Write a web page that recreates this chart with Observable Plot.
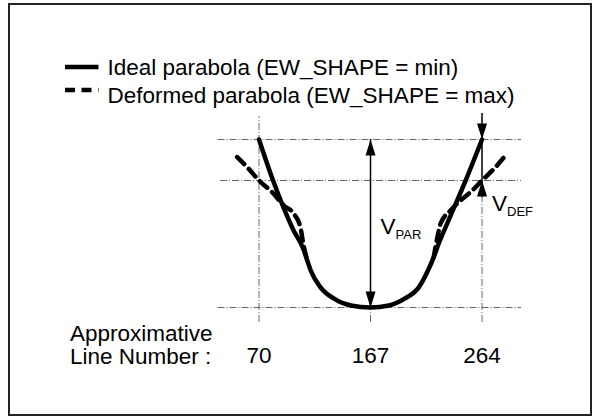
<!DOCTYPE html>
<html>
<head>
<meta charset="utf-8">
<script src="https://cdn.jsdelivr.net/npm/d3@7"></script>
<script src="https://cdn.jsdelivr.net/npm/@observablehq/plot@0.6"></script>
<style>
  html, body { margin: 0; padding: 0; background: #fff; }
  #wrap { position: relative; width: 593px; height: 418px; font-family: "Liberation Sans", Arial, sans-serif; }
  #border { position: absolute; left: 8px; top: 3px; width: 584px; height: 413px; box-sizing: border-box; border: 2px solid #222; pointer-events: none; }
  #legend { position: absolute; left: 0; top: 0; }
  #chart { position: absolute; left: 0; top: 0; }
</style>
</head>
<body>
<div id="wrap">
  <div id="chart"></div>
  <svg id="legend" width="593" height="120"></svg>
  <div id="border"></div>
</div>
<script>
// ---- Data ----
const seriesNames = ["Ideal parabola (EW_SHAPE = min)", "Deformed parabola (EW_SHAPE = max)"];
const lineTicks = [70, 167, 264];
const axisLabel = "Approximative\nLine Number :";

// Ideal parabola: line number vs. vertical value (0 = bottom, 100 = V_PAR top)
const idealLine =  [70, 82, 100, 108.5, 112, 115, 123.5, 135, 150, 167, 183, 197, 209, 217, 222, 226, 235, 250, 264];
const idealValue = [100, 76, 46, 35, 28, 22, 12, 5.4, 1.2, 0, 1.2, 5.4, 12, 22, 30, 37.5, 52, 76, 100];

// Deformed parabola (visible branches; lower part coincides with the ideal curve)
const defLeftLine =   [51, 61, 70, 81.5, 91.6, 100.3, 106, 108.5, 112];
const defLeftValue =  [89.5, 82.6, 75.6, 68.6, 60.7, 55.8, 47.8, 38, 28];
const defRightLine =  [222, 225, 228, 236.6, 245.3, 255.5, 264, 275.7, 284.4];
const defRightValue = [30, 41.1, 50, 57.7, 63.7, 69.6, 75.6, 83.5, 90.5];

// Dash-dot guide lines
const hGuideValue = [100, 75.6, 0];
const hGuideFrom  = [34.3, 36.5, 34.3];
const hGuideTo    = [298.4, 298.4, 298.4];
const vGuideLine   = [70, 167, 264];
const vGuideTop    = [113.7, 0, 75.6];
const vGuideBottom = [-8.9, -8.9, -8.9];

// Dimension arrows
const arrowLine = [167, 264];
const arrowFrom = [0, 65.5];
const arrowTo   = [100, 115.5];
const headLine  = [167, 167, 264, 264];
const headValue = [100, 0, 100, 75.6];
const headDir   = [0, 180, 180, 0];

// Annotation labels
const labelLine  = [167, 264];
const labelValue = [44, 57.7];
const labelMain  = ["V", "V"];
const labelSub   = ["PAR", "DEF"];

// ---- Build tables ----
const ideal = idealLine.map((l, i) => ({line: l, value: idealValue[i]}));
const deformed = [
  ...defLeftLine.map((l, i) => ({line: l, value: defLeftValue[i], branch: "left"})),
  ...defRightLine.map((l, i) => ({line: l, value: defRightValue[i], branch: "right"}))
];
const hGuides = hGuideValue.map((v, i) => ({value: v, from: hGuideFrom[i], to: hGuideTo[i]}));
const vGuides = vGuideLine.map((l, i) => ({line: l, top: vGuideTop[i], bottom: vGuideBottom[i]}));
const arrows = arrowLine.map((l, i) => ({line: l, from: arrowFrom[i], to: arrowTo[i]}));
const heads = headLine.map((l, i) => ({line: l, value: headValue[i], dir: headDir[i]}));
const labels = labelLine.map((l, i) => ({line: l, value: labelValue[i], main: labelMain[i], sub: labelSub[i]}));

const guideStyle = {stroke: "#666", strokeWidth: 1, strokeDasharray: "7,2,1,2"};
const FS = 22.5;

const chart = Plot.plot({
  width: 593,
  height: 418,
  marginLeft: 258.5,
  marginRight: 111.5,
  marginTop: 139,
  marginBottom: 111,
  style: {fontFamily: "'Liberation Sans', Arial, sans-serif", fontSize: FS + "px", background: "transparent", overflow: "visible"},
  x: {domain: [70, 264]},
  y: {domain: [0, 100], axis: null},
  marks: [
    Plot.ruleY(hGuides, {y: "value", x1: "from", x2: "to", ...guideStyle}),
    Plot.ruleX(vGuides, {x: "line", y1: "bottom", y2: "top", ...guideStyle}),
    Plot.line(deformed, {x: "line", y: "value", z: "branch", stroke: "black", strokeWidth: 4.5, strokeDasharray: "10,6.5", curve: "monotone-x"}),
    Plot.line(ideal, {x: "line", y: "value", stroke: "black", strokeWidth: 4.5, curve: "monotone-x"}),
    Plot.ruleX(arrows, {x: "line", y1: "from", y2: "to", stroke: "black", strokeWidth: 1.5}),
    Plot.vector(heads, {x: "line", y: "value", rotate: "dir", length: 16, r: 5, shape: "spike", anchor: "end", fill: "black", stroke: "none"}),
    Plot.text(labels, {x: "line", y: "value", text: "main", dx: 10, textAnchor: "start", lineAnchor: "bottom", fontSize: FS, fill: "black"}),
    Plot.text(labels, {x: "line", y: "value", text: "sub", dx: 25, dy: 5, textAnchor: "start", lineAnchor: "bottom", fontSize: 13, fill: "black"}),
    Plot.axisX({ticks: lineTicks, tickSize: 0, tickPadding: 40, tickFormat: d => String(d), fontSize: FS, label: null, fill: "black"}),
    Plot.text([axisLabel], {frameAnchor: "bottom-left", dx: -189, dy: 17, textAnchor: "start", lineAnchor: "top", lineHeight: 1.03, fontSize: FS, fill: "black"})
  ]
});
document.getElementById("chart").appendChild(chart);

// ---- Legend ----
const svg = d3.select("#legend");
const legendRows = [
  {name: seriesNames[0], dash: null, y: 67, baseline: 75},
  {name: seriesNames[1], dash: "10,6.5", y: 90, baseline: 103}
];
for (const r of legendRows) {
  svg.append("line").attr("x1", 65).attr("x2", 98.5).attr("y1", r.y).attr("y2", r.y)
    .attr("stroke", "black").attr("stroke-width", 4.5).attr("stroke-dasharray", r.dash);
  svg.append("text").attr("x", 107.5).attr("y", r.baseline)
    .attr("font-family", "'Liberation Sans', Arial, sans-serif").attr("font-size", FS)
    .attr("fill", "black").text(r.name);
}
</script>
</body>
</html>
